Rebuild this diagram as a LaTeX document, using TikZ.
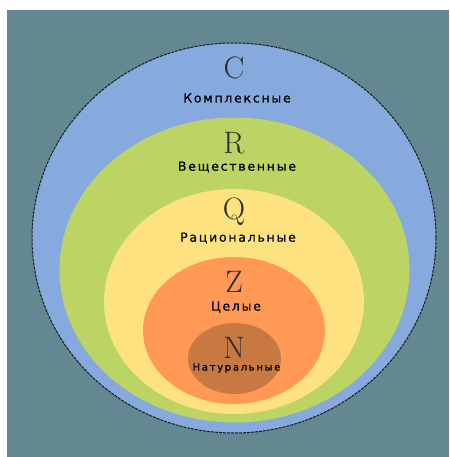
\documentclass[tikz,border=0pt]{standalone}
\usepackage{fontspec}
\setmainfont{Latin Modern Roman}
\newfontfamily\lblfont[LetterSpace=14,FakeBold=0.6]{DejaVu Sans}
\newfontfamily\smallfont[LetterSpace=17,FakeBold=1]{DejaVu Sans}
\definecolor{bgc}{RGB}{99,136,145}
\definecolor{cblue}{RGB}{135,170,222}
\definecolor{cgreen}{RGB}{188,212,99}
\definecolor{cyellow}{RGB}{255,226,128}
\definecolor{corange}{RGB}{255,153,85}
\definecolor{cbrown}{RGB}{200,120,65}
\definecolor{letc}{RGB}{45,45,45}
\begin{document}
\begin{tikzpicture}[x=1pt,y=-1pt,
  setletter/.style={font=\fontsize{31}{31}\selectfont, text=letc, inner sep=0pt, anchor=center},
  setname/.style={font=\lblfont\fontsize{12.5}{12.5}\selectfont, text=black, inner sep=0pt, anchor=center},
  natname/.style={font=\smallfont\fontsize{10}{10}\selectfont, text=black, inner sep=0pt, anchor=center}]
\useasboundingbox (0,0) rectangle (449,457);
\fill[white] (0,0) rectangle (449,457);
\fill[bgc] (7,10) rectangle (449,457);
\fill[cblue] (234,238) ellipse [x radius=202, y radius=195];
\draw[black!90, dash pattern=on 3pt off 1pt, line width=1pt] (234,238) ellipse [x radius=202, y radius=195];
\fill[cgreen] (234.5,270) ellipse [x radius=175, y radius=152.5];
\fill[cyellow] (234,301.5) ellipse [x radius=130, y radius=112.5];
\fill[corange] (234,330.5) ellipse [x radius=91, y radius=73.5];
\fill[cbrown] (234.5,358.5) ellipse [x radius=46.5, y radius=35.5];
\node[setletter] (c) at (234,68) {C};
\node[setname] (cn) at (237,98) {Комплексные};
\node[setletter] (r) at (234,143) {R};
\node[setname] (rn) at (237,167) {Вещественные};
\node[setletter] (q) at (234,212) {Q};
\node[setname] (qn) at (238,238) {Рациональные};
\node[setletter] (z) at (234,282) {Z};
\node[setname] (zn) at (236,307) {Целые};
\node[setletter] (n) at (234,348) {N};
\node[natname] (nn) at (236.5,368) {Натуральные};
\end{tikzpicture}
\end{document}
